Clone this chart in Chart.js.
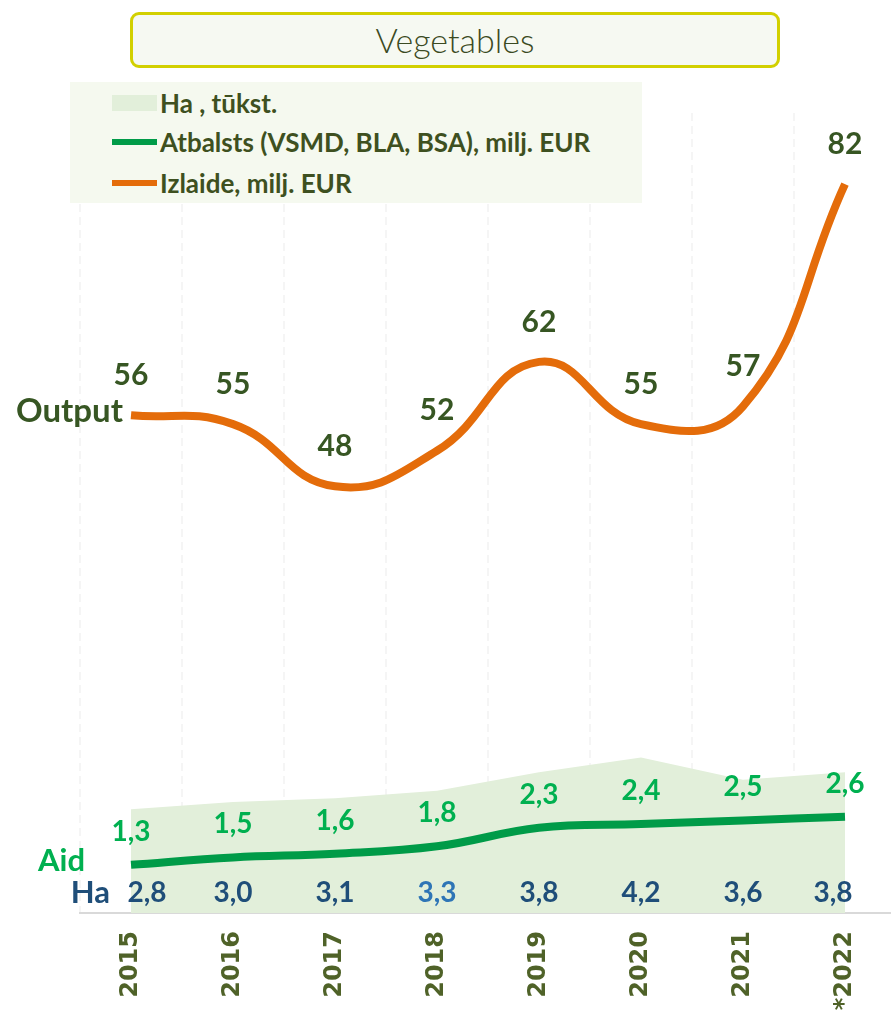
<!DOCTYPE html>
<html>
<head>
<meta charset="utf-8">
<script src="https://cdn.jsdelivr.net/npm/chart.js@4.4.0/dist/chart.umd.min.js"></script>
<style>
  body { margin: 0; overflow: hidden; background: #fff; width: 891px; height: 1014px; position: relative; }
  #chart { position: absolute; left: 0; top: 0; }
  .title {
    position: absolute; left: 130px; top: 12px; width: 650px; height: 56px;
    box-sizing: border-box; border: 3px solid #D2D000; border-radius: 9px;
    background: #F6F9F2; color: #3B4A22; text-align: center;
    font: 300 34px Lato, "Open Sans", sans-serif; line-height: 50px;
  }
  .legend { position: absolute; left: 70px; top: 82px; width: 572px; height: 121px; background: #F5F9EF; }
  .item { position: absolute; left: 42px; height: 28px; display: flex; align-items: center;
    font: bold 26px Lato, sans-serif; color: #3E5020; white-space: nowrap; }
  .sw { width: 45px; margin-right: 3px; }
</style>
</head>
<body>
<canvas id="chart" width="896" height="1014"></canvas>
<div class="title">Vegetables</div>
<div class="legend">
  <div class="item" style="top:7px"><span class="sw" style="height:16px;background:#E2EFDA"></span>Ha , tūkst.</div>
  <div class="item" style="top:46px"><span class="sw" style="height:6px;background:#009B48"></span>Atbalsts (VSMD, BLA, BSA), milj. EUR</div>
  <div class="item" style="top:87px"><span class="sw" style="height:6px;background:#E46C0A"></span>Izlaide, milj. EUR</div>
</div>
<script>
// data
const years = ['2015', '2016', '2017', '2018', '2019', '2020', '2021', '*2022'];
const output = [56, 55, 48, 52, 62, 55, 57, 82];      // Izlaide, milj. EUR
const aid = [1.3, 1.5, 1.6, 1.8, 2.3, 2.4, 2.5, 2.6];  // Atbalsts, milj. EUR
const ha = [2.8, 3.0, 3.1, 3.3, 3.8, 4.2, 3.6, 3.8];   // Ha, tūkst.

const fmt = v => v.toFixed(1).replace('.', ',');

// value labels + the side captions
const labelPlugin = {
  id: 'valueLabels',
  afterDatasetsDraw(chart) {
    const ctx = chart.ctx;
    const outPts = chart.getDatasetMeta(0).data;
    const aidPts = chart.getDatasetMeta(1).data;
    const haPts = chart.getDatasetMeta(2).data;
    const base = chart.scales.y.getPixelForValue(0);
    const haNudge = [16, 0, 0, 0, 0, 0, 0, -12];

    ctx.save();
    ctx.textAlign = 'center';
    ctx.textBaseline = 'middle';

    ctx.font = 'bold 30px Lato, sans-serif';
    ctx.fillStyle = '#375623';
    outPts.forEach((p, i) => ctx.fillText(String(output[i]), p.x, p.y - 40));

    ctx.font = 'bold 28px Lato, sans-serif';
    ctx.fillStyle = '#00B050';
    aidPts.forEach((p, i) => ctx.fillText(fmt(aid[i]), p.x, p.y - 33));

    haPts.forEach((p, i) => {
      ctx.fillStyle = i === 3 ? '#2E75B6' : '#1F4E79';
      ctx.fillText(fmt(ha[i]), p.x + haNudge[i], base - 20);
    });

    // captions on the left
    ctx.textAlign = 'right';
    ctx.font = 'bold 33px Lato, sans-serif';
    ctx.fillStyle = '#375623';
    ctx.fillText('Output', outPts[0].x - 8, outPts[0].y - 4);
    ctx.font = 'bold 31px Lato, sans-serif';
    ctx.fillStyle = '#00B050';
    ctx.fillText('Aid', aidPts[0].x - 46, aidPts[0].y - 4);
    ctx.fillStyle = '#1F4E79';
    ctx.fillText('Ha', haPts[0].x - 21, base - 20);
    ctx.restore();
  }
};

new Chart(document.getElementById('chart'), {
  type: 'line',
  data: {
    labels: years,
    datasets: [
      {
        label: 'Izlaide, milj. EUR',
        data: output,
        yAxisID: 'y2',
        borderColor: '#E46C0A',
        borderWidth: 8,
        tension: 0.45,
        pointRadius: 0,
        fill: false,
      },
      {
        label: 'Atbalsts (VSMD, BLA, BSA), milj. EUR',
        data: aid,
        yAxisID: 'y',
        borderColor: '#009B48',
        borderWidth: 8,
        tension: 0.4,
        pointRadius: 0,
        fill: false,
      },
      {
        label: 'Ha , tūkst.',
        data: ha,
        yAxisID: 'y',
        borderWidth: 0,
        backgroundColor: '#E2EFDA',
        tension: 0,
        pointRadius: 0,
        fill: 'origin',
      },
    ],
  },
  options: {
    responsive: false,
    animation: false,
    devicePixelRatio: 1,
    layout: { padding: { left: 80, top: 113, right: 0, bottom: 0 } },
    plugins: { legend: { display: false }, tooltip: { enabled: false } },
    scales: {
      x: {
        offset: true,
        afterFit(scale) { scale.height = 101; },
        grid: { offset: true, color: '#F5F5F5', lineWidth: 2, drawTicks: false },
        border: { color: '#D9D9D9', width: 2, dash: [8, 5] },
        ticks: {
          minRotation: 90,
          maxRotation: 90,
          padding: 18,
          color: '#4F6228',
          font: { family: 'DejaVu Sans', weight: 'bold', size: 24 },
        },
      },
      y: { display: false, min: 0, max: 21.6 },
      y2: { display: false, min: 0, max: 90 },
    },
  },
  plugins: [labelPlugin],
});
</script>
</body>
</html>
